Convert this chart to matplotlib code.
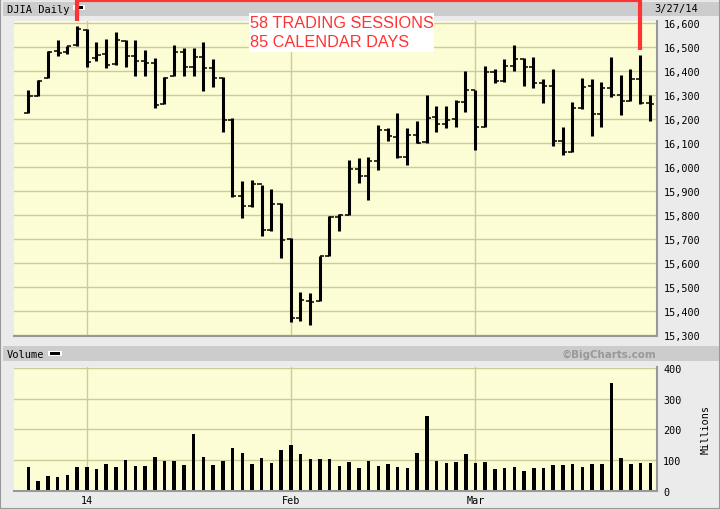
import numpy as np
import matplotlib.pyplot as plt
from matplotlib.lines import Line2D
from matplotlib.patches import Rectangle
from matplotlib.ticker import FuncFormatter

# trading days shown (Dec 23 2013 .. Mar 27 2014)
dates = ['12/23', '12/24', '12/26', '12/27', '12/30', '12/31',
         '1/2', '1/3', '1/6', '1/7', '1/8', '1/9', '1/10', '1/13', '1/14', '1/15',
         '1/16', '1/17', '1/21', '1/22', '1/23', '1/24', '1/27', '1/28', '1/29',
         '1/30', '1/31',
         '2/3', '2/4', '2/5', '2/6', '2/7', '2/10', '2/11', '2/12', '2/13', '2/14',
         '2/18', '2/19', '2/20', '2/21', '2/24', '2/25', '2/26', '2/27', '2/28',
         '3/3', '3/4', '3/5', '3/6', '3/7', '3/10', '3/11', '3/12', '3/13', '3/14',
         '3/17', '3/18', '3/19', '3/20', '3/21', '3/24', '3/25', '3/26', '3/27']

opens = [16225, 16296, 16372, 16486, 16479, 16512, 16572, 16456, 16474, 16429,
         16528, 16463, 16445, 16437, 16262, 16379, 16480, 16417, 16459, 16414,
         16373, 16197, 15879, 15838, 15929, 15739, 15849, 15701, 15373, 15443,
         15443, 15630, 15794, 15802, 15994, 15964, 16028, 16154, 16128, 16041,
         16133, 16104, 16208, 16180, 16201, 16273, 16322, 16169, 16396, 16360,
         16422, 16453, 16419, 16351, 16340, 16109, 16066, 16247, 16337, 16222,
         16331, 16303, 16276, 16368, 16269]
highs = [16322, 16364, 16483, 16531, 16505, 16588, 16576, 16524, 16535, 16563,
         16531, 16531, 16489, 16456, 16378, 16510, 16496, 16496, 16521, 16453,
         16375, 16204, 15942, 15946, 15928, 15910, 15850, 15706, 15479, 15475,
         15632, 15799, 15804, 16031, 16037, 16044, 16176, 16164, 16225, 16164,
         16192, 16301, 16254, 16254, 16282, 16400, 16323, 16421, 16410, 16451,
         16510, 16456, 16462, 16368, 16410, 16167, 16271, 16372, 16368, 16357,
         16458, 16385, 16410, 16468, 16301]
lows = [16225, 16296, 16372, 16465, 16474, 16504, 16419, 16444, 16412, 16426,
        16419, 16382, 16382, 16246, 16262, 16379, 16379, 16382, 16319, 16335,
        16146, 15878, 15787, 15836, 15712, 15736, 15622, 15356, 15361, 15343,
        15442, 15629, 15736, 15802, 15933, 15864, 15990, 16111, 16037, 16011,
        16100, 16100, 16149, 16163, 16167, 16229, 16074, 16168, 16350, 16355,
        16403, 16340, 16329, 16267, 16087, 16051, 16063, 16243, 16129, 16167,
        16294, 16219, 16275, 16265, 16194]
closes = [16296, 16358, 16480, 16478, 16504, 16577, 16441, 16470, 16425, 16531,
          16463, 16445, 16437, 16258, 16374, 16482, 16417, 16459, 16414, 16373,
          16197, 15879, 15838, 15929, 15739, 15849, 15699, 15373, 15445, 15440,
          15629, 15794, 15802, 15995, 15964, 16028, 16154, 16130, 16041, 16133,
          16103, 16207, 16180, 16198, 16273, 16322, 16168, 16396, 16360, 16422,
          16453, 16419, 16351, 16340, 16109, 16066, 16247, 16336, 16222, 16331,
          16303, 16277, 16368, 16269, 16264]
# volume, millions
volume = [78, 32, 48, 45, 52, 78, 78, 71, 88, 78, 101, 81, 81, 111, 98, 98, 85,
          184, 111, 85, 98, 141, 124, 88, 108, 91, 134, 151, 121, 104, 104, 104,
          81, 95, 75, 98, 81, 88, 78, 75, 124, 243, 98, 91, 95, 121, 91, 95, 71,
          75, 78, 65, 75, 75, 85, 85, 88, 78, 88, 88, 352, 108, 88, 91, 91]

tick_dates = ['1/2', '2/3', '3/3']
tick_labels = ['14', 'Feb', 'Mar']
price_ticks = np.arange(15300, 16601, 100)
vol_ticks = [0, 100, 200, 300, 400]

# annotation: top bar and the bar 58 sessions later
top_date, end_date = '12/31', '3/26'
note_lines = ['58 TRADING SESSIONS', '85 CALENDAR DAYS']

W, H = 720, 510
BG = '#EBEBEB'
PLOT_BG = '#FDFDD5'
GRID = '#CCCC99'
RED = '#FF3333'
MONO = 'DejaVu Sans Mono'


def fx(x):
    return x / W


def fy(y):
    return 1 - y / H


fig = plt.figure(figsize=(W / 100, H / 100), dpi=100, facecolor=BG)

# header bands
for y0, y1 in [(3, 17), (347, 362)]:
    fig.add_artist(Rectangle((fx(3), fy(y1)), fx(717), (y1 - y0) / H,
                             transform=fig.transFigure, facecolor='#CCCCCC',
                             edgecolor='none', zorder=0))
fig.add_artist(Rectangle((0, 0), 1, 1, transform=fig.transFigure,
                         facecolor='none', edgecolor='#999999', lw=1.5))

x = np.arange(len(dates))
xlim = (-1.49, 64.68)
tick_pos = [dates.index(d) for d in tick_dates]

ax = fig.add_axes([fx(14), fy(336.5), fx(642.5), 314.5 / H])
axv = fig.add_axes([fx(14), fy(492), fx(643), 124 / H])

for a in (ax, axv):
    a.set_facecolor(PLOT_BG)
    a.set_xlim(*xlim)
    a.set_xticks(tick_pos)
    a.grid(True, color=GRID, lw=1.0)
    a.set_axisbelow(True)
    for s in ('top', 'left'):
        a.spines[s].set_visible(False)
    for s in ('right', 'bottom'):
        a.spines[s].set_color('#999999')
        a.spines[s].set_linewidth(1.5)
    a.yaxis.tick_right()

# price bars
ax.vlines(x, lows, highs, color='black', lw=2.2)
ax.hlines(opens, x - 0.42, x, color='black', lw=1.1)
ax.hlines(closes, x, x + 0.42, color='black', lw=1.1)
ax.set_ylim(15299, 16610)
ax.set_yticks(price_ticks)
ax.yaxis.set_major_formatter(FuncFormatter(lambda v, p: f'{int(v):,}'))
ax.tick_params(axis='y', length=0, pad=5.4, labelsize=7.3)
ax.tick_params(axis='x', length=0, labelbottom=False)
for t in ax.get_yticklabels():
    t.set_fontfamily(MONO)

# volume bars
axv.bar(x, volume, width=0.36, color='black')
axv.set_ylim(0, 403)
axv.set_yticks(vol_ticks)
axv.set_xticklabels(tick_labels)
axv.tick_params(axis='y', length=0, pad=4.4, labelsize=7.3)
axv.tick_params(axis='x', length=0, pad=3, labelsize=7.3)
for t in axv.get_yticklabels() + axv.get_xticklabels():
    t.set_fontfamily(MONO)

# header texts
fig.text(fx(7), fy(12.7), 'DJIA Daily', family=MONO, fontsize=7.5, va='baseline')
fig.text(fx(698), fy(12.3), '3/27/14', family=MONO, fontsize=7.5,
         va='baseline', ha='right')
fig.text(fx(7), fy(358.3), 'Volume', family=MONO, fontsize=7.5, va='baseline')
fig.text(fx(656), fy(358.5), '\u00a9BigCharts.com', fontsize=7.4,
         fontweight='bold', color='#999999', va='baseline', ha='right')
fig.text(fx(706), fy(430), 'Millions', family=MONO, fontsize=7.3,
         rotation=90, ha='center', va='center')
for (x0, y0, x1, y1), c in [((73, 6, 85, 11), 'white'), ((75, 7.3, 83, 9.7), 'black'),
                            ((48, 351.5, 62, 357), 'white'), ((50, 352.7, 60, 355.8), 'black')]:
    fig.add_artist(Rectangle((fx(x0), fy(y1)), fx(x1 - x0), (y1 - y0) / H,
                             transform=fig.transFigure, facecolor=c,
                             edgecolor='none'))

# red bracket from the top bar to the later bar
to_fig = fig.transFigure.inverted()
i0, i1 = dates.index(top_date), dates.index(end_date)
p0 = ax.transData.transform((i0, highs[i0]))
p1 = ax.transData.transform((i1, highs[i1]))
top_px = H - 1.5
pts = [(p0[0], p0[1] + 5), (p0[0], top_px), (p1[0], top_px), (p1[0], p1[1] + 5)]
pts = to_fig.transform(pts)
fig.add_artist(Line2D(pts[:, 0], pts[:, 1], transform=fig.transFigure,
                      color=RED, lw=3.0, solid_joinstyle='miter',
                      solid_capstyle='butt', zorder=10))

# note box
fig.add_artist(Rectangle((fx(249), fy(52.7)), fx(185), 38.7 / H,
                         transform=fig.transFigure, facecolor='white',
                         edgecolor='none', zorder=9))
for line, base in zip(note_lines, [28.3, 47.3]):
    fig.text(fx(250), fy(base), line, family='Liberation Sans', fontsize=11.7,
             color=RED, va='baseline', zorder=11)

fig.savefig('out.png', dpi=100, facecolor=BG)
